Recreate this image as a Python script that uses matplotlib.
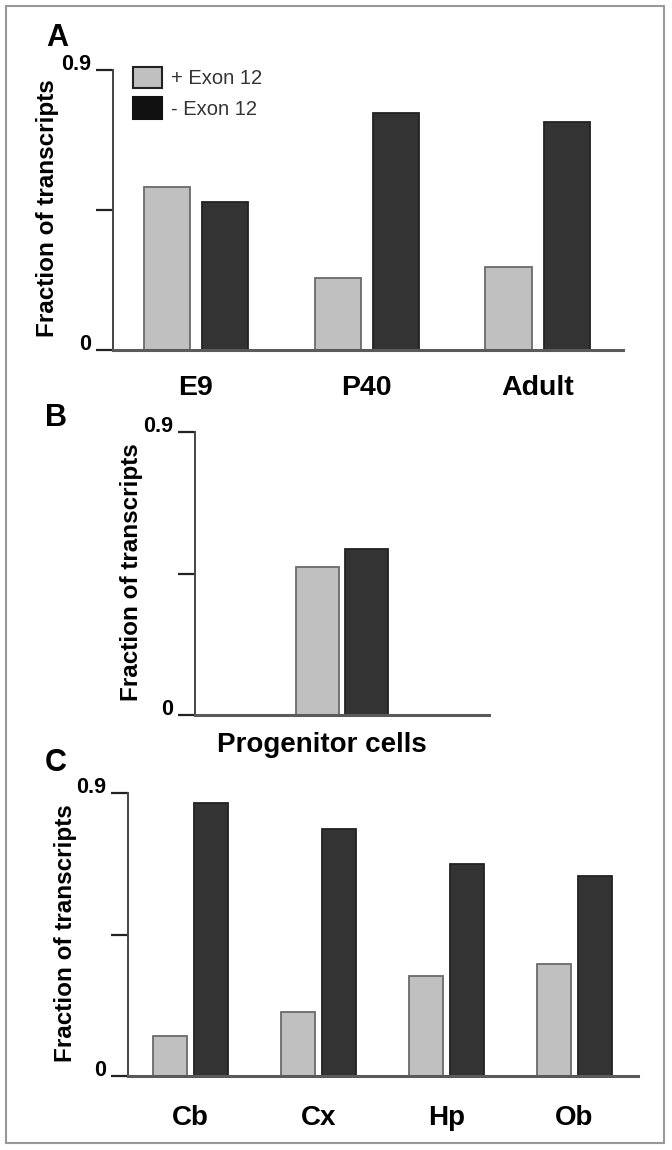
import matplotlib
matplotlib.use("Agg")
import matplotlib.pyplot as plt
import matplotlib.transforms as mtransforms
from matplotlib.patches import Patch, Rectangle
import numpy as np

plt.rcParams['font.family'] = ['Liberation Sans', 'DejaVu Sans']

# data
series = ['+ Exon 12', '- Exon 12']
a_cats = ['E9', 'P40', 'Adult']
a_plus = [0.524, 0.232, 0.267]
a_minus = [0.476, 0.762, 0.733]

b_cats = ['Progenitor cells']
b_plus = [0.471]
b_minus = [0.529]

c_cats = ['Cb', 'Cx', 'Hp', 'Ob']
c_plus = [0.127, 0.204, 0.318, 0.356]
c_minus = [0.868, 0.786, 0.674, 0.636]

yticks = [0, 0.45, 0.9]
ytick_labels = ['0', '', '0.9']

LIGHT = '#c0c0c0'
DARK = '#333333'
W, H = 672, 1150

fig = plt.figure(figsize=(W / 100, H / 100), dpi=100)


def px_axes(left, right, top, bottom):
    # axes rectangle given in pixel positions of the figure
    return fig.add_axes([left / W, 1 - bottom / H, (right - left) / W, (bottom - top) / H])


def panel(ax, cats, plus, minus, off, width, xlim, xpad, xfs, ylab_x, letter, letter_xy):
    x = np.arange(len(cats))
    ax.bar(x - off, plus, width, color=LIGHT, edgecolor='#6a6a6a', linewidth=1.3)
    ax.bar(x + off, minus, width, color=DARK, edgecolor='#222222', linewidth=1.3)
    ax.set_xlim(*xlim)
    ax.set_ylim(0, 0.9)
    for s in ['top', 'right']:
        ax.spines[s].set_visible(False)
    ax.spines['left'].set_color('#444444')
    ax.spines['left'].set_linewidth(1.4)
    ax.spines['bottom'].set_color('#5a5a5a')
    ax.spines['bottom'].set_linewidth(2.2)
    ax.set_yticks(yticks)
    ax.set_yticklabels(ytick_labels, fontsize=15.5, fontweight='bold')
    for t in ax.get_yticklabels():
        t.set_va('baseline')
    ax.tick_params(axis='y', length=12, width=1.6, color='#222222', pad=4)
    ax.set_xticks(x)
    ax.set_xticklabels(cats, fontsize=xfs, fontweight='bold')
    ax.tick_params(axis='x', length=0, pad=xpad)
    ax.set_ylabel('Fraction of transcripts', fontsize=17.5, fontweight='bold')
    ax.yaxis.set_label_coords(ylab_x, 0.505)
    fig.text(letter_xy[0] / W, 1 - letter_xy[1] / H, letter, fontsize=22,
             fontweight='bold', ha='center', va='center')


ax_a = px_axes(113, 623, 70, 350)
panel(ax_a, a_cats, a_plus, a_minus, 0.17, 0.27, (-0.485, 2.5), 18, 20.5,
      (59 - 113) / 510, 'A', (57, 38))

ax_b = px_axes(195, 489, 432, 715)
panel(ax_b, b_cats, b_plus, b_minus, 0.167, 0.29, (-1, 1), 12, 20,
      (143 - 195) / 294, 'B', (56, 418))
# the category label in B sits a little left of the bar pair
shift = mtransforms.ScaledTranslation(-20 / 100, 0, fig.dpi_scale_trans)
for t in ax_b.get_xticklabels():
    t.set_transform(t.get_transform() + shift)

ax_c = px_axes(128, 638, 793, 1076)
panel(ax_c, c_cats, c_plus, c_minus, 0.16, 0.266, (-0.49, 3.5), 21, 20,
      (77 - 128) / 510, 'C', (56, 763))

handles = [Patch(facecolor=LIGHT, edgecolor='#222222', linewidth=1.5),
           Patch(facecolor='#111111', edgecolor='#111111', linewidth=1.5)]
fig.legend(handles, series, loc='upper left', bbox_to_anchor=(133 / W, 1 - 67 / H),
           frameon=False, fontsize=14.5, borderpad=0, borderaxespad=0,
           handlelength=1.45, handleheight=1.25, handletextpad=0.45,
           labelspacing=0.45, labelcolor='#333333')

fig.patches.append(Rectangle((6 / W, 1 - 1143 / H), 658 / W, 1137 / H, transform=fig.transFigure,
                             fill=False, edgecolor='#999999', linewidth=1.5))

fig.savefig('out.png', dpi=100)
